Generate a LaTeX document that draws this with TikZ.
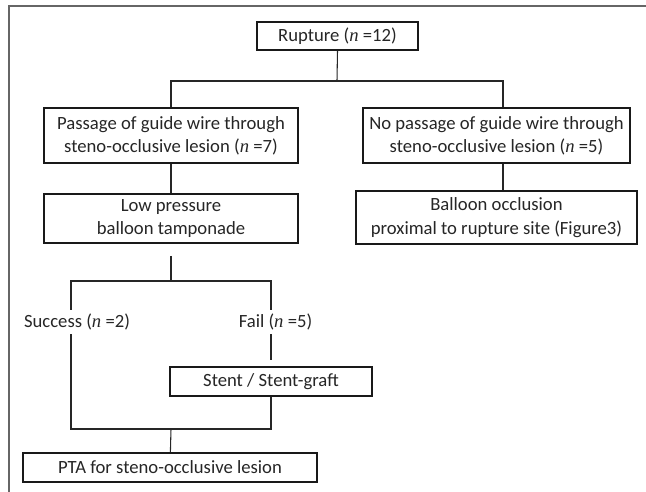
\documentclass[tikz,border=0pt]{standalone}
\usepackage{fontspec}
\setmainfont{Carlito}
\newfontfamily\nfont{Liberation Serif}
\newcommand{\nvar}{{\nfont\itshape n}}
\tikzset{
    box/.style={draw=black!90, line width=1.3pt, fill=white, inner sep=0pt, align=center,
        font=\fontsize{14}{17.5}\selectfont, text=black!85},
    lbl/.style={inner sep=3pt, font=\fontsize{14}{17.5}\selectfont, text=black!85},
    conn/.style={line width=0.8pt, draw=black!85},
}

\begin{document}
\begin{tikzpicture}[x=0.75pt, y=-0.75pt]
\useasboundingbox (0,0) rectangle (646,492);
% frame
\draw[black!60, line width=1pt] (9,492) -- (9,6) -- (646,6);

\node[box, minimum width=120.75pt, minimum height=21pt] (rupture) at (337.5,36) {Rupture (\nvar{} =12)};
\node[box, minimum width=190.5pt, minimum height=41.25pt] (passage) at (171,135.5)
    {Passage of guide wire through\\steno-occlusive lesion (\nvar{} =7)};
\node[box, minimum width=200.25pt, minimum height=41.25pt] (nopassage) at (496.5,135.5)
    {No passage of guide wire through\\steno-occlusive lesion (\nvar{} =5)};
\node[box, minimum width=190.5pt, minimum height=36.75pt] (lowp) at (171,218.5)
    {Low pressure\\balloon tamponade};
\node[box, minimum width=210.75pt, minimum height=39.75pt] (balloon) at (496.5,217.5)
    {Balloon occlusion\\proximal to rupture site (Figure3)};
\node[lbl] (success) at (77,322) {Success (\nvar{} =2)};
\node[lbl] (fail) at (275.5,322) {Fail (\nvar{} =5)};
\node[box, minimum width=151.5pt, minimum height=21.75pt] (stent) at (271,381.5) {Stent / Stent-graft};
\node[box, minimum width=220.5pt, minimum height=21.75pt] (pta) at (170,467.5) {PTA for steno-occlusive lesion};

\coordinate (split) at (337,81);
\coordinate (split2) at (171,281);
\coordinate (sx) at (71,281);
\coordinate (fx) at (271,281);
\coordinate (merge) at (171,429);

\draw[conn] (rupture.south) -- (split);
\draw[conn] (passage.north) |- (split) -| ([xshift=4.875pt]nopassage.north);
\draw[conn] (passage) -- (lowp);
\draw[conn] ([xshift=4.875pt]nopassage.south) -- ([xshift=4.875pt]balloon.north);
\draw[conn, shorten <=9pt] (lowp.south) -- (split2);
\draw[conn] (sx |- success.north) -- (sx) -- (fx) -- (fx |- fail.north);
\draw[conn, shorten >=4.5pt] (fail.south -| stent.north) -- (stent.north);
\draw[conn] (sx |- success.south) |- (merge) -| (stent.south);
\draw[conn] (merge) -- (pta);
\end{tikzpicture}
\end{document}
